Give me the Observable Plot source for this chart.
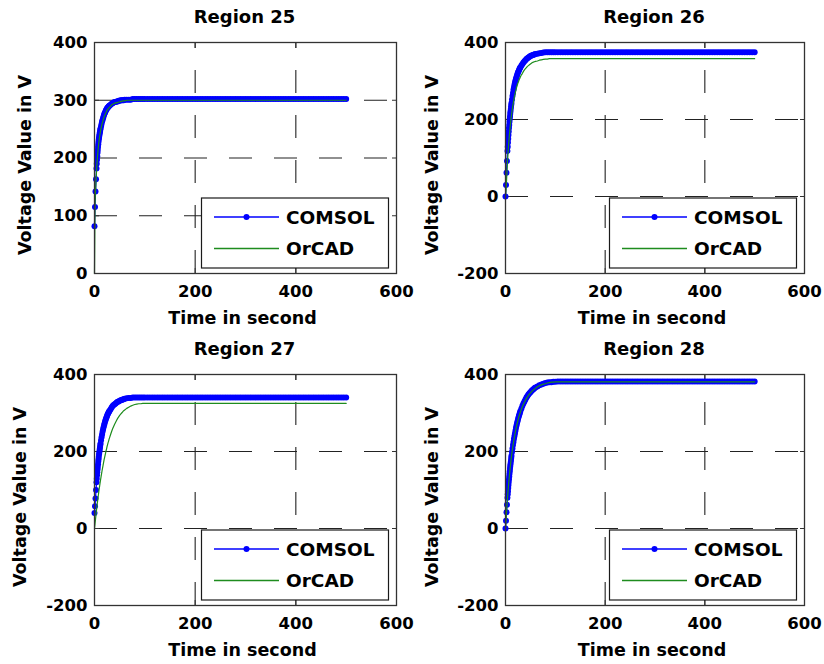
<!DOCTYPE html>
<html><head><meta charset="utf-8">
<script src="https://cdn.jsdelivr.net/npm/d3@7"></script>
<script src="https://cdn.jsdelivr.net/npm/@observablehq/plot@0.6"></script>
<style>
html,body{margin:0;padding:0;background:#fff;}
#chart{position:relative;width:824px;height:664px;background:#fff;}
#chart svg{position:absolute;}
</style></head><body><div id="chart"></div>
<script>
// ---------- data ----------
const time = [
  0,1,2,3,4,
  4.5,5,5.5,6,6.5,7,7.5,8,8.5,9,9.5,10,10.5,11,11.5,12,
  13,14,15,16,17,18,19,20,21,22,23,24,25,26,27,28,29,30,
  32,34,36,38,40,42,44,46,48,50,52,54,56,58,60,
  64,68,72,76,80,84,88,92,96,100,
  105,110,115,120,125,130,135,140,145,150,
  155,160,165,170,175,180,185,190,195,200,
  205,210,215,220,225,230,235,240,245,250,
  255,260,265,270,275,280,285,290,295,300,
  305,310,315,320,325,330,335,340,345,350,
  355,360,365,370,375,380,385,390,395,400,
  405,410,415,420,425,430,435,440,445,450,
  455,460,465,470,475,480,485,490,495,500];

const titles = ["Region 25","Region 26","Region 27","Region 28"];
const seriesNames = ["COMSOL","OrCAD"];
const xLabel = "Time in second";
const yLabel = "Voltage Value in V";
const xTicks = [0,200,400,600];
const yTicksA = [0,100,200,300,400];
const yTicksB = [-200,0,200,400];

const comsol25 = [
  82,115,142,163,182,
  190,197,203,209,214,219,224,228,232,235,238,241,244,246,249,251,
  255,259,263,266,269,272,275,277,279,281,283,284,286,287,288,289,290,291,
  292,294,295,296,297,297,298,298,299,299,300,300,300,300,301,
  301,301,301,302,302,302,302,302,302,302,
  302,302,302,302,302,302,302,302,302,302,
  302,302,302,302,302,302,302,302,302,302,
  302,302,302,302,302,302,302,302,302,302,
  302,302,302,302,302,302,302,302,302,302,
  302,302,302,302,302,302,302,302,302,302,
  302,302,302,302,302,302,302,302,302,302,
  302,302,302,302,302,302,302,302,302,302,
  302,302,302,302,302,302,302,302,302,302];
const orcad25 = [
  0,120,140,160,177,
  184,191,197,203,208,213,218,222,226,229,233,236,239,242,244,247,
  251,255,259,262,265,268,271,273,275,277,279,281,283,284,285,286,287,288,
  290,292,293,294,295,295,296,296,297,297,298,298,299,299,299,
  300,300,300,300,300,300,300,300,300,300,
  300,300,300,300,300,300,300,300,300,300,
  300,300,300,300,300,300,300,300,300,300,
  300,300,300,300,300,300,300,300,300,300,
  300,300,300,300,300,300,300,300,300,300,
  300,300,300,300,300,300,300,300,300,300,
  300,300,300,300,300,300,300,300,300,300,
  300,300,300,300,300,300,300,300,300,300,
  300,300,300,300,300,300,300,300,300,300];

const comsol26 = [
  0,30,62,92,118,
  129,140,150,160,169,178,186,194,201,208,215,221,227,233,238,243,
  252,261,269,277,284,290,296,301,306,310,314,318,322,325,328,331,334,336,
  340,344,348,351,354,357,359,361,363,365,366,367,368,369,370,
  371,372,373,374,375,375,375,375,375,375,
  375,375,375,375,375,375,375,375,375,375,
  375,375,375,375,375,375,375,375,375,375,
  375,375,375,375,375,375,375,375,375,375,
  375,375,375,375,375,375,375,375,375,375,
  375,375,375,375,375,375,375,375,375,375,
  375,375,375,375,375,375,375,375,375,375,
  375,375,375,375,375,375,375,375,375,375,
  375,375,375,375,375,375,375,375,375,375];
const orcad26 = [
  0,15,40,65,90,
  100,110,120,130,139,147,155,162,169,176,183,189,195,200,206,211,
  221,230,238,246,253,260,266,272,277,282,287,291,295,298,302,305,308,311,
  316,320,325,329,332,335,338,340,342,344,346,348,349,350,351,
  352,354,355,356,357,357,358,358,358,358,
  358,358,358,358,358,358,358,358,358,358,
  358,358,358,358,358,358,358,358,358,358,
  358,358,358,358,358,358,358,358,358,358,
  358,358,358,358,358,358,358,358,358,358,
  358,358,358,358,358,358,358,358,358,358,
  358,358,358,358,358,358,358,358,358,358,
  358,358,358,358,358,358,358,358,358,358,
  358,358,358,358,358,358,358,358,358,358];

const comsol27 = [
  40,58,78,100,120,
  129,138,146,153,160,167,174,180,186,192,197,202,207,212,217,221,
  229,237,244,251,257,263,268,273,278,282,286,289,293,296,299,301,304,306,
  310,314,318,321,323,325,327,329,330,332,333,334,335,336,337,
  338,339,339,340,340,340,340,340,340,340,
  340,340,340,340,340,340,340,340,340,340,
  340,340,340,340,340,340,340,340,340,340,
  340,340,340,340,340,340,340,340,340,340,
  340,340,340,340,340,340,340,340,340,340,
  340,340,340,340,340,340,340,340,340,340,
  340,340,340,340,340,340,340,340,340,340,
  340,340,340,340,340,340,340,340,340,340,
  340,340,340,340,340,340,340,340,340,340];
const orcad27 = [
  0,12,24,36,48,
  54,59,65,70,75,80,85,90,95,100,105,109,113,118,122,126,
  134,142,150,157,164,171,178,184,190,196,202,207,213,218,223,227,232,236,
  244,252,259,265,271,276,281,286,290,294,297,300,303,306,308,
  312,315,318,320,322,323,324,324,325,325,
  325,325,325,325,325,325,325,325,325,325,
  325,325,325,325,325,325,325,325,325,325,
  325,325,325,325,325,325,325,325,325,325,
  325,325,325,325,325,325,325,325,325,325,
  325,325,325,325,325,325,325,325,325,325,
  325,325,325,325,325,325,325,325,325,325,
  325,325,325,325,325,325,325,325,325,325,
  325,325,325,325,325,325,325,325,325,325];

const comsol28 = [
  0,20,42,62,80,
  89,97,105,113,121,128,135,142,149,155,161,167,173,178,184,189,
  199,208,217,225,233,240,247,254,261,267,273,278,283,288,293,297,301,305,
  312,319,325,330,335,340,344,348,351,354,357,360,362,364,366,
  369,372,374,376,378,379,380,380,381,381,
  382,382,382,382,382,382,382,382,382,382,
  382,382,382,382,382,382,382,382,382,382,
  382,382,382,382,382,382,382,382,382,382,
  382,382,382,382,382,382,382,382,382,382,
  382,382,382,382,382,382,382,382,382,382,
  382,382,382,382,382,382,382,382,382,382,
  382,382,382,382,382,382,382,382,382,382,
  382,382,382,382,382,382,382,382,382,382];
const orcad28 = [
  0,19,40,60,78,
  87,95,103,111,119,126,133,140,147,153,159,165,171,176,182,187,
  197,206,215,223,231,238,245,252,259,265,271,276,281,286,291,295,299,303,
  310,317,323,328,333,338,342,346,349,352,355,358,360,362,364,
  368,371,373,375,376,378,379,380,380,381,
  381,381,381,381,381,381,381,381,381,381,
  381,381,381,381,381,381,381,381,381,381,
  381,381,381,381,381,381,381,381,381,381,
  381,381,381,381,381,381,381,381,381,381,
  381,381,381,381,381,381,381,381,381,381,
  381,381,381,381,381,381,381,381,381,381,
  381,381,381,381,381,381,381,381,381,381,
  381,381,381,381,381,381,381,381,381,381];

// ---------- layout / style ----------
const FONT = "DejaVu Sans";
const BLUE = "#0000ff", GREEN = "#1e8c1e", GRID = "#222", FRAME = "#333";
const W = 412, H = 332, MT = 42, MB = 59;

const panels = [
  {title: titles[0], comsol: comsol25, orcad: orcad25, yDomain: [0,400], yTicks: yTicksA, left: 0, top: 0, ml: 94, mr: 16, ylDx: -69.3},
  {title: titles[1], comsol: comsol26, orcad: orcad26, yDomain: [-200,400], yTicks: yTicksB, left: 412, top: 0, ml: 93, mr: 20, ylDx: -73.3},
  {title: titles[2], comsol: comsol27, orcad: orcad27, yDomain: [-200,400], yTicks: yTicksB, left: 0, top: 332, ml: 94, mr: 16, ylDx: -74.3},
  {title: titles[3], comsol: comsol28, orcad: orcad28, yDomain: [-200,400], yTicks: yTicksB, left: 412, top: 332, ml: 93, mr: 20, ylDx: -73.3}
];

const chart = document.getElementById("chart");

for (const p of panels) {
  const rows = time.map((t, i) => ({t, c: p.comsol[i], o: p.orcad[i]}));
  const [yMin, yMax] = p.yDomain;
  const [xMin, xMax] = [xTicks[0], xTicks[xTicks.length - 1]];
  const svg = Plot.plot({
    width: W, height: H,
    marginLeft: p.ml, marginRight: p.mr, marginTop: MT, marginBottom: MB,
    style: {fontFamily: FONT, fontWeight: "bold", color: "#000", background: "transparent", overflow: "visible"},
    x: {domain: [xMin, xMax]},
    y: {domain: p.yDomain},
    marks: [
      // dashed grid
      Plot.ruleY(p.yTicks.filter(v => v > yMin && v < yMax), {stroke: GRID, strokeWidth: 1.1, strokeDasharray: "23,22"}),
      Plot.ruleX(xTicks.filter(v => v > xMin && v < xMax), {y1: () => yMin, y2: () => yMax, stroke: GRID, strokeWidth: 1.1, strokeDasharray: "23,22"}),
      // inward ticks
      Plot.axisX({anchor: "bottom", ticks: xTicks, tickSize: -5, fill: "none", label: null, stroke: FRAME}),
      Plot.axisX({anchor: "top", ticks: xTicks, tickSize: -5, fill: "none", label: null, stroke: FRAME}),
      Plot.axisY({anchor: "left", ticks: p.yTicks, tickSize: -5, fill: "none", label: null, stroke: FRAME}),
      Plot.axisY({anchor: "right", ticks: p.yTicks, tickSize: -5, fill: "none", label: null, stroke: FRAME}),
      // tick labels
      Plot.axisX({anchor: "bottom", ticks: xTicks, tickSize: 0, tickPadding: 11.5, fontSize: 16.5, label: null, tickFormat: d => String(d)}),
      Plot.axisY({anchor: "left", ticks: p.yTicks, tickSize: 0, tickPadding: 7, fontSize: 16.5, label: null, tickFormat: d => String(d)}),
      // data
      Plot.line(rows, {x: "t", y: "c", stroke: BLUE, strokeWidth: 1.3}),
      Plot.dot(rows, {x: "t", y: "c", r: 3, fill: BLUE, stroke: "none"}),
      Plot.line(rows, {x: "t", y: "o", stroke: GREEN, strokeWidth: 1.2}),
      Plot.frame({stroke: FRAME, strokeWidth: 1.3}),
      // title and axis labels
      Plot.text([p.title], {text: d => d, frameAnchor: "top", dy: -25.3, dx: -1, fontSize: 18, lineAnchor: "middle"}),
      Plot.text([xLabel], {text: d => d, frameAnchor: "bottom", dy: 44.5, dx: -3, fontSize: 17.5, lineAnchor: "middle"}),
      Plot.text([yLabel], {text: d => d, frameAnchor: "left", rotate: -90, dx: p.ylDx, dy: 7, fontSize: 17.5, lineAnchor: "middle", textAnchor: "middle"})
    ]
  });
  svg.style.left = p.left + "px";
  svg.style.top = p.top + "px";

  // legend box (bottom-right, inside axes)
  const plotRight = W - p.mr, plotBottom = H - MB;
  const bw = 187, bh = 70;
  const bx = plotRight - 8 - bw, by = plotBottom - 75.5;
  const g = d3.select(svg).append("g")
    .attr("font-family", FONT).attr("font-weight", "bold").attr("font-size", 18.5)
    .attr("text-anchor", "start");
  g.append("rect").attr("x", bx + 0.5).attr("y", by + 0.5).attr("width", bw).attr("height", bh)
    .attr("fill", "#fff").attr("stroke", "#1a1a1a").attr("stroke-width", 1.2);
  const colors = [BLUE, GREEN];
  const lineY = [19.5, 51];
  seriesNames.forEach((name, i) => {
    const ly = by + lineY[i];
    g.append("line").attr("x1", bx + 13).attr("x2", bx + 78).attr("y1", ly).attr("y2", ly)
      .attr("stroke", colors[i]).attr("stroke-width", 1.3);
    if (i === 0) g.append("circle").attr("cx", bx + 45.5).attr("cy", ly).attr("r", 3).attr("fill", BLUE);
    g.append("text").attr("x", bx + 85).attr("y", ly).attr("dy", "0.36em").attr("fill", "#000").text(name);
  });
  chart.appendChild(svg);
}
</script>
</body></html>
